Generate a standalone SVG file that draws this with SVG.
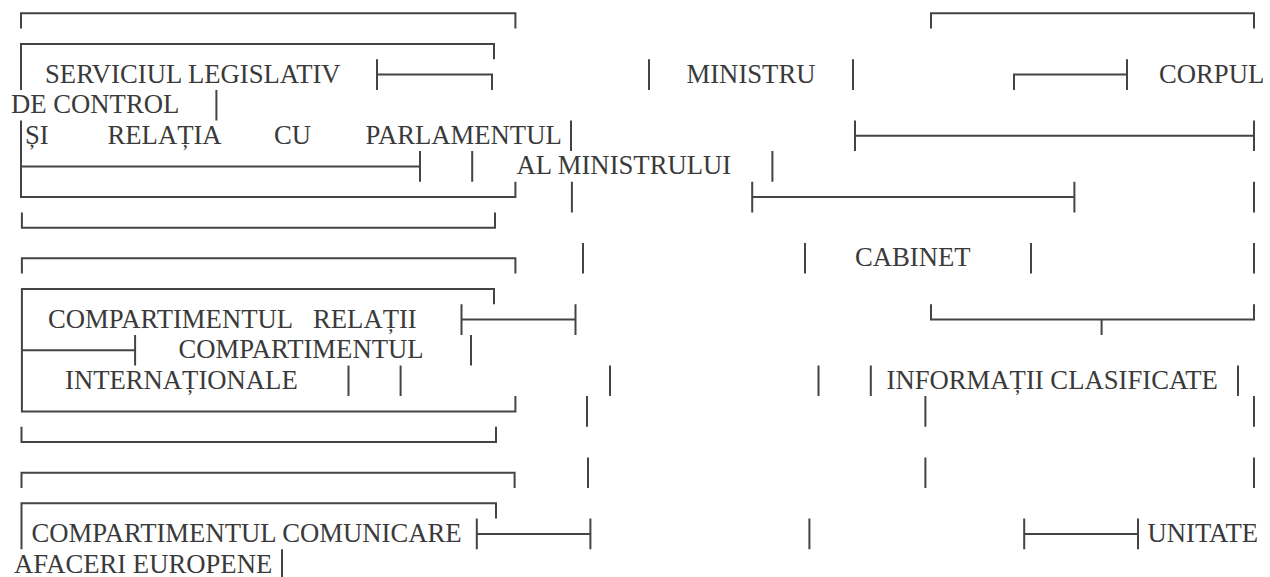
<svg xmlns="http://www.w3.org/2000/svg" width="1270" height="577" viewBox="0 0 1270 577">
<style>
.ln{fill:none;stroke:#444;stroke-width:2;stroke-linecap:butt}
.t{font-family:"Liberation Serif","Times New Roman",serif;font-size:26.7px;fill:#3a3a3a}
</style>
<rect width="1270" height="577" fill="#fff"/>
<g id="connectors" class="ln">
<path d="M21,28.6V13.3H515.4V28.6M931,28.6V13.3H1254V28.6"/>
<path d="M21,89.9V43.9H494V59.25"/>
<path d="M377,59.25V89.9M377,74.6H492V89.9M649,59.25V89.9M853,59.25V89.9M1014,89.9V74.6H1127M1127,59.25V89.9"/>
<path d="M216.4,89.9V120.5"/>
<path d="M21,120.5V197.1H515.4V181.75M571,120.5V151.1M855,120.5V151.1M855,135.8H1254M1254,120.5V151.1"/>
<path d="M21,166.4H420M420,151.1V181.75M472.2,151.1V181.75M772.4,151.1V181.75"/>
<path d="M571.9,181.75V212.4M752.2,181.75V212.4M752.2,197.1H1074.4M1074.4,181.75V212.4M1254,181.75V212.4"/>
<path d="M21.9,212.4V227.7H495V212.4"/>
<path d="M21.9,273.6V258.3H515.4V273.6M583,243V273.6M805,243V273.6M1031,243V273.6M1254,243V273.6"/>
<path d="M494,304.25V288.9H21.9V411.4H515.4V396.1"/>
<path d="M461.5,304.25V334.9M461.5,319.6H575.5M575.5,304.25V334.9M931,304.25V319.6H1254V304.25M1101.6,319.6V334.9"/>
<path d="M21.9,350.2H135.1M135.1,334.9V365.5M471,334.9V365.5"/>
<path d="M348.5,365.5V396.1M400.6,365.5V396.1M610,365.5V396.1M818.5,365.5V396.1M870.8,365.5V396.1M1238,365.5V396.1"/>
<path d="M587,396.1V426.75M925.4,396.1V426.75M1254,396.1V426.75"/>
<path d="M21.5,426.75V442.1H496V426.75"/>
<path d="M21.5,488V472.7H514.6V488M588,457.4V488M925.4,457.4V488M1254,457.4V488"/>
<path d="M496,518.6V503.3H21.5V549.25"/>
<path d="M476.8,518.6V549.25M476.8,533.9H590.4M590.4,518.6V549.25M809.4,518.6V549.25M1024.2,518.6V549.25M1024.2,533.9H1138M1138,518.6V549.25"/>
<path d="M282,549.25V577"/>
</g>
<g id="serviciul-legislativ" class="t">
<text x="45" y="82.5">SERVICIUL LEGISLATIV</text>
<text x="11" y="113.2">DE CONTROL</text>
<text x="25" y="143.8">ȘI</text>
<text x="107.5" y="143.8">RELAȚIA</text>
<text x="274" y="143.8">CU</text>
<text x="365.5" y="143.8">PARLAMENTUL</text>
</g>
<g id="ministru" class="t"><text x="686.5" y="82.5">MINISTRU</text></g>
<g id="corpul-de-control" class="t"><text x="1159" y="82.5">CORPUL</text></g>
<g id="al-ministrului" class="t"><text x="516.5" y="174.4">AL MINISTRULUI</text></g>
<g id="cabinet" class="t"><text x="855" y="266.3">CABINET</text></g>
<g id="relatii-internationale" class="t">
<text x="48" y="327.5">COMPARTIMENTUL</text>
<text x="313" y="327.5">RELAȚII</text>
<text x="65" y="388.8">INTERNAȚIONALE</text>
</g>
<g id="compartimentul" class="t"><text x="178.5" y="358.2">COMPARTIMENTUL</text></g>
<g id="informatii-clasificate" class="t"><text x="886.5" y="388.8">INFORMAȚII CLASIFICATE</text></g>
<g id="comunicare" class="t">
<text x="31.5" y="541.8">COMPARTIMENTUL COMUNICARE</text>
<text x="14" y="572.5">AFACERI EUROPENE</text>
</g>
<g id="unitate" class="t"><text x="1147.5" y="541.8">UNITATE</text></g>
</svg>
